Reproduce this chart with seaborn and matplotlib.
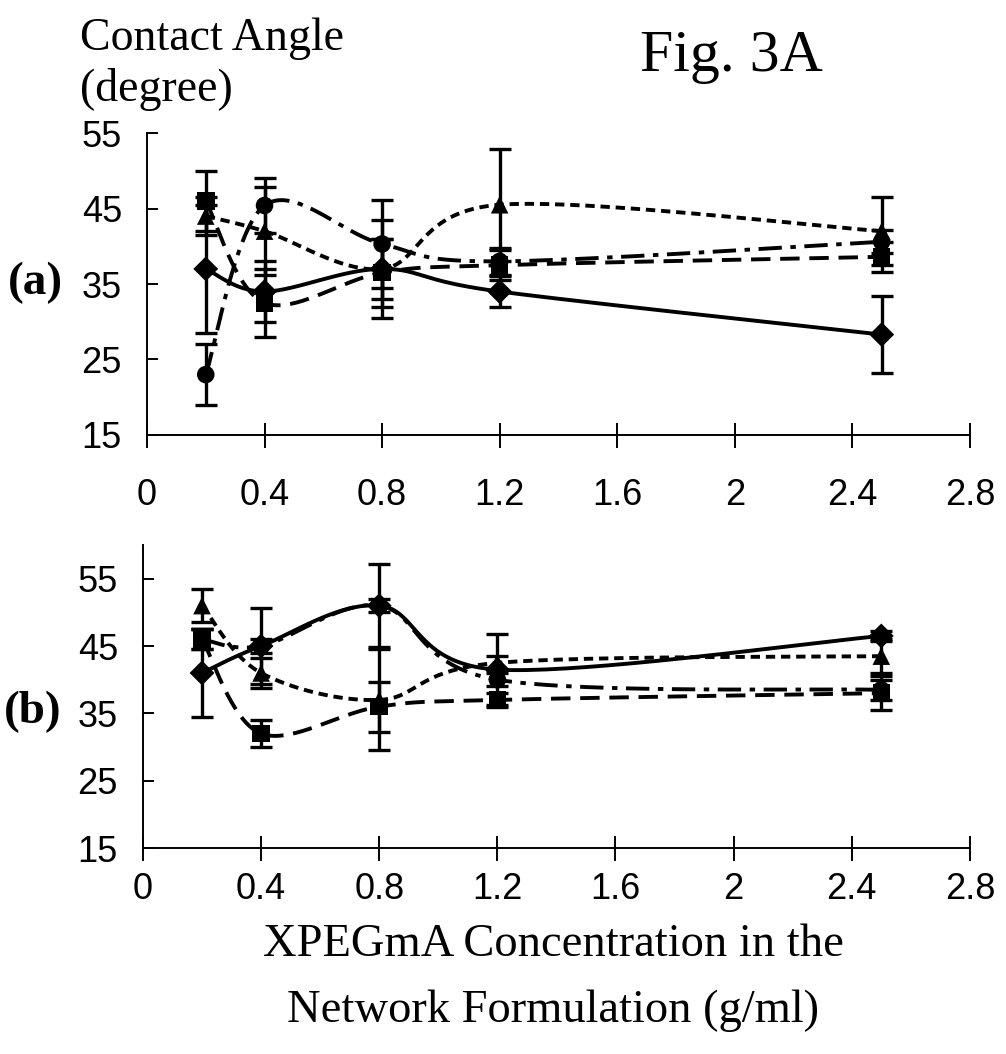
import numpy as np
import pandas as pd
import seaborn as sns
import matplotlib.pyplot as plt

# concentration (g/ml) of the measured formulations
conc = [0.2, 0.4, 0.8, 1.2, 2.5]
x_ticks = [0, 0.4, 0.8, 1.2, 1.6, 2.0, 2.4, 2.8]
x_tick_labels = ["0", "0.4", "0.8", "1.2", "1.6", "2", "2.4", "2.8"]
y_ticks = [15, 25, 35, 45, 55]

series_names = ["diamond", "circle", "triangle", "square"]

# panel (a) contact angle means and error bars
a_diamond = [37, 34, 37, 34, 28.3]
a_diamond_err = [8.5, 4, 4, 2, 5.1]
a_circle = [23, 45.4, 40.3, 38, 40.6]
a_circle_err = [4, 3.6, 5.8, 1.8, 1.5]
a_triangle = [44, 42, 37, 45.5, 42]
a_triangle_err = [2.5, 5.8, 6.5, 7.4, 4.5]
a_square = [46, 32.5, 36.5, 37.5, 38.6]
a_square_err = [4, 4.5, 4.5, 2, 2]

# panel (b)
b_diamond = [41, 45, 51, 41.5, 46.5]
b_diamond_err = [6.5, 5.6, 6.2, 5.3, 0.8]
b_circle = [46, 45, 51, 40, 38.5]
b_circle_err = [1.5, 1, 1, 1, 1.5]
b_triangle = [51, 41, 37, 42.5, 43.5]
b_triangle_err = [2.4, 2.2, 7.5, 1, 2.5]
b_square = [46, 32, 36, 37, 38]
b_square_err = [1.5, 2, 3.7, 1, 2.5]

MARKERS = {"diamond": "D", "circle": "o", "triangle": "^", "square": "s"}
DASHES = {"diamond": "", "circle": (6, 2.2, 1.4, 2.2),
          "triangle": (2.4, 1.5), "square": (5, 2.5)}
PALETTE = {name: "black" for name in series_names}


def smooth(xs, ys, n=40):
    # Excel style smoothed line: cubic bezier through the points
    pts = np.column_stack([xs, ys]).astype(float)
    out = []
    for i in range(len(pts) - 1):
        p0 = pts[i - 1] if i > 0 else pts[i]
        p1, p2 = pts[i], pts[i + 1]
        p3 = pts[i + 2] if i + 2 < len(pts) else pts[i + 1]
        c1 = p1 + (p2 - p0) / 6
        c2 = p2 - (p3 - p1) / 6
        t = np.linspace(0, 1, n)[:, None]
        seg = ((1 - t) ** 3 * p1 + 3 * (1 - t) ** 2 * t * c1
               + 3 * (1 - t) * t ** 2 * c2 + t ** 3 * p2)
        out.append(seg if i == 0 else seg[1:])
    return np.vstack(out)


def draw_panel(ax, values, errors, ylim, xpad):
    curves = []
    points = []
    for name in series_names:
        curve = smooth(conc, values[name])
        curves.append(pd.DataFrame({"x": curve[:, 0], "y": curve[:, 1],
                                    "series": name}))
        points.append(pd.DataFrame({"x": conc, "y": values[name],
                                    "series": name}))
    curves = pd.concat(curves, ignore_index=True)
    points = pd.concat(points, ignore_index=True)

    for name in series_names:
        ax.errorbar(conc, values[name], yerr=errors[name], fmt="none",
                    ecolor="black", elinewidth=2.4, capsize=8, capthick=2.4,
                    zorder=3)
    sns.lineplot(data=curves, x="x", y="y", hue="series", style="series",
                 palette=PALETTE, dashes=DASHES, sort=False, estimator=None,
                 linewidth=2.8, legend=False, ax=ax, zorder=4)
    sns.scatterplot(data=points, x="x", y="y", style="series",
                    markers=MARKERS, color="black", s=160, linewidth=0,
                    legend=False, ax=ax, zorder=5)

    ax.set_xlim(0, 2.8)
    ax.set_ylim(*ylim)
    ax.set_xticks(x_ticks)
    ax.set_xticklabels(x_tick_labels)
    ax.set_yticks(y_ticks)
    ax.set_xlabel("")
    ax.set_ylabel("")
    ax.tick_params(axis="x", direction="inout", length=18, width=1.4,
                   pad=xpad, labelsize=26, colors="black")
    ax.tick_params(axis="y", direction="in", length=8, width=1.4,
                   pad=18, labelsize=26, colors="black")
    for lab in ax.get_xticklabels() + ax.get_yticklabels():
        lab.set_family(["Liberation Sans Narrow", "Liberation Sans"])
    for side in ["left", "bottom"]:
        ax.spines[side].set_linewidth(1.4)
        ax.spines[side].set_color("black")
    sns.despine(ax=ax)


def main():
    sns.set_theme(style="ticks")
    plt.rcParams["font.family"] = ["Liberation Serif", "DejaVu Serif"]
    plt.rcParams["text.color"] = "black"

    fig = plt.figure(figsize=(10.06, 10.54), dpi=100)
    ax_a = fig.add_axes([0.1461, 0.5873, 0.818, 0.2865])
    ax_b = fig.add_axes([0.1421, 0.1954, 0.822, 0.2875])

    draw_panel(ax_a,
               {"diamond": a_diamond, "circle": a_circle,
                "triangle": a_triangle, "square": a_square},
               {"diamond": a_diamond_err, "circle": a_circle_err,
                "triangle": a_triangle_err, "square": a_square_err},
               (15, 55), 22)
    draw_panel(ax_b,
               {"diamond": b_diamond, "circle": b_circle,
                "triangle": b_triangle, "square": b_square},
               {"diamond": b_diamond_err, "circle": b_circle_err,
                "triangle": b_triangle_err, "square": b_square_err},
               (15, 60), 8)

    fig.text(80 / 1006, 1 - 17 / 1054, "Contact Angle\n(degree)",
             ha="left", va="top", fontsize=33, linespacing=1.25,
             color="black")
    fig.text(640 / 1006, 1 - 30 / 1054, "Fig. 3A", ha="left", va="top",
             fontsize=43, color="black")
    fig.text(8 / 1006, 1 - 283 / 1054, "(a)", ha="left", va="center",
             fontsize=34, fontweight="bold", color="black")
    fig.text(4 / 1006, 1 - 712 / 1054, "(b)", ha="left", va="center",
             fontsize=34, fontweight="bold", color="black")
    fig.text(553 / 1006, 1 - 924 / 1054,
             "XPEGmA Concentration in the\nNetwork Formulation (g/ml)",
             ha="center", va="top", fontsize=33.5, linespacing=1.7,
             color="black")

    fig.savefig("out.png", dpi=100)


if __name__ == "__main__":
    main()
